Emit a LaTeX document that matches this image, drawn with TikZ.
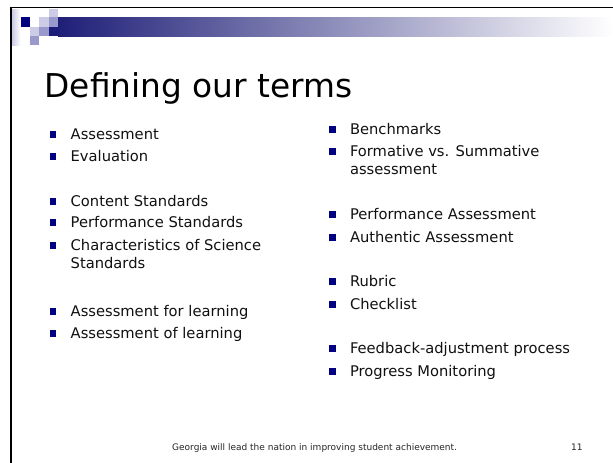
\documentclass[tikz,border=0pt]{standalone}
\usepackage{fontspec}
\setmainfont{DejaVu Sans}
\definecolor{barnavy}{HTML}{1F1F78}
\definecolor{sqnavy}{HTML}{000080}
\definecolor{sqdark}{HTML}{1C1C7A}
\definecolor{sqlight}{HTML}{CCCCE6}
\definecolor{sqmed}{HTML}{9999CC}
\definecolor{palestrip}{HTML}{C4C4E2}
\definecolor{bulletnavy}{HTML}{000080}
\definecolor{bodytext}{HTML}{111111}
\tikzset{
  item/.style={anchor=base west, inner sep=0pt, align=left, text=bodytext,
    font=\fontsize{14.7}{18}\selectfont},
  bul/.style={fill=bulletnavy, draw=none, minimum size=6.5pt, inner sep=0pt},
  foot/.style={anchor=base west, inner sep=0pt, text=black!85,
    font=\fontsize{9}{11}\selectfont},
  sq/.style={draw=none}
}
\begin{document}
\begin{tikzpicture}[x=1pt,y=-1pt]
\useasboundingbox (0,0) rectangle (613,463);
\fill[white] (0,0) rectangle (613,463);
% gradient bar and pixel squares
\shade[left color=barnavy, right color=white] (58,17) rectangle (613,36);
\shade[left color=palestrip, right color=white] (11,9) rectangle (20.5,45);
\fill[sq, sqlight] (48.5,8.5) rectangle (58,17);
\fill[sq, sqnavy]  (20.5,17) rectangle (29.5,27);
\fill[sq, sqlight] (38.5,17) rectangle (48.5,27);
\fill[sq, sqmed]   (48.5,17) rectangle (58,27);
\fill[sq, sqlight] (29.5,27) rectangle (38.5,36);
\fill[sq, sqmed]   (38.5,27) rectangle (48.5,36);
\fill[sq, sqdark]  (48.5,27) rectangle (58.2,36);
\fill[sq, sqmed]   (29.5,36) rectangle (38.5,45);
% frame
\draw[line width=1.8pt] (11,463) -- (11,7.5) -- (613,7.5);
% title
\node[anchor=base west, inner sep=0pt, font=\fontsize{32.8}{36}\selectfont] (title) at (44.5,97) {Defining our terms};
% left column (multi-line nodes are placed by their last baseline)
\node[item] (l1) at (70.5,139) {Assessment};
\node[item] (l2) at (70.5,161) {Evaluation};
\node[item] (l3) at (70.5,206) {Content Standards};
\node[item] (l4) at (70.5,227) {Performance Standards};
\node[item] (l5) at (70.5,268) {Characteristics of Science\\Standards};
\node[item] (l6) at (70.5,316) {Assessment for learning};
\node[item] (l7) at (70.5,338) {Assessment of learning};
\foreach \n/\y in {1/139,2/161,3/206,4/227,5/250,6/316,7/338}
  \node[bul] (lb\n) at (53,\y-4.5) {};
% right column
\node[item] (r1) at (349.8,134) {Benchmarks};
\node[item] (r2) at (349.8,174) {Formative vs. Summative\\assessment};
\node[item] (r3) at (349.8,219) {Performance Assessment};
\node[item] (r4) at (349.8,242) {Authentic Assessment};
\node[item] (r5) at (349.8,286) {Rubric};
\node[item] (r6) at (349.8,309) {Checklist};
\node[item] (r7) at (349.8,353) {Feedback-adjustment process};
\node[item] (r8) at (349.8,376) {Progress Monitoring};
\foreach \n/\y in {1/134,2/156,3/219,4/242,5/286,6/309,7/353,8/376}
  \node[bul] (rb\n) at (332.5,\y-4.5) {};
% footer
\node[foot] (footer) at (172,450) {Georgia will lead the nation in improving student achievement.};
\node[foot] (pagenum) at (571,450) {11};
\end{tikzpicture}
\end{document}
